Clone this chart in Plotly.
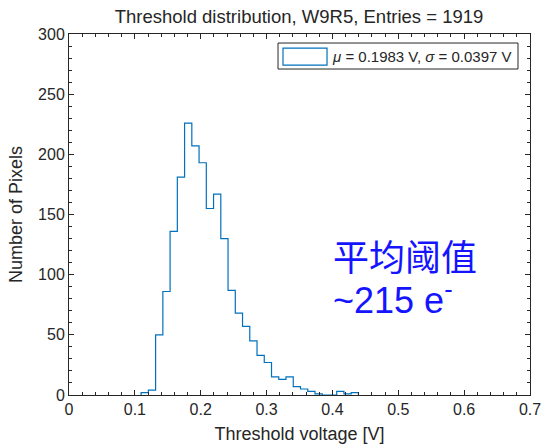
import numpy as np
import plotly.graph_objects as go

# Threshold histogram, W9R5 (bin width 0.011 V)
bin_start = 0.1095
bin_width = 0.011
counts = [2, 4, 50, 86, 136, 181, 226, 207, 193, 155,
          167, 130, 87, 68, 57, 45, 33, 27, 15, 13,
          15, 7, 5, 3, 1, 0, 0, 3, 1, 2]

x_ticks = [0, 0.1, 0.2, 0.3, 0.4, 0.5, 0.6, 0.7]
y_ticks = [0, 50, 100, 150, 200, 250, 300]

mean_v = 0.1983
sigma_v = 0.0397
entries = sum(counts)

edges = bin_start + bin_width * np.arange(len(counts) + 1)
# stairs outline: start and end on the baseline
xs = np.concatenate([[edges[0]], edges])
ys = np.concatenate([[0], counts, [0]])

AX = "#262626"
BLUE = "#0072BD"
FONT = "Liberation Sans, Arial, sans-serif"

fig = go.Figure()
fig.add_trace(go.Scatter(
    x=xs, y=ys, mode="lines", line_shape="hv",
    line=dict(color=BLUE, width=1.2),
    showlegend=False,
))

axis_common = dict(
    showline=True, linecolor=AX, linewidth=1, mirror="allticks",
    ticks="inside", ticklen=5, tickcolor=AX, tickwidth=1,
    showgrid=False, zeroline=False, automargin=False,
    ticklabeloverflow="allow",
    tickfont=dict(family=FONT, size=16, color=AX),
)

fig.update_xaxes(
    range=[0, 0.7], tickvals=x_ticks, ticktext=[f"{v:g}" for v in x_ticks],
    minor=dict(ticks="inside", dtick=0.02, ticklen=3, tickcolor=AX, showgrid=False),
    title=dict(text="Threshold voltage [V]", font=dict(family=FONT, size=18, color=AX), standoff=10),
    **axis_common,
)
fig.update_yaxes(
    range=[0, 300], tickvals=y_ticks,
    minor=dict(ticks="inside", dtick=10, ticklen=3, tickcolor=AX, showgrid=False),
    title=dict(text="Number of Pixels", font=dict(family=FONT, size=18, color=AX), standoff=10),
    **axis_common,
)

# legend box: outlined patch swatch plus the fit summary
fig.add_shape(type="rect", xref="paper", yref="paper",
              x0=0.4534, x1=0.974, y0=0.903, y1=0.975,
              line=dict(color=AX, width=1), fillcolor="white", layer="above")
fig.add_shape(type="rect", xref="paper", yref="paper",
              x0=0.4642, x1=0.5597, y0=0.914, y1=0.961,
              line=dict(color=BLUE, width=1.2), fillcolor="rgba(255,255,255,0)", layer="above")
fig.add_annotation(
    x=0.566, y=0.939, xref="paper", yref="paper", xanchor="left", yanchor="middle",
    text=f"<i>μ</i> = {mean_v:.4f} V, <i>σ</i> = {sigma_v:.4f} V", showarrow=False,
    font=dict(family=FONT, size=15, color=AX),
)

fig.add_annotation(
    x=0.398, y=116, xref="x", yref="y", xanchor="left", yanchor="middle",
    text="平均阈值", showarrow=False,
    font=dict(family="Noto Sans CJK SC", size=36, color="#1414FF"),
)
fig.add_annotation(
    x=0.398, y=81, xref="x", yref="y", xanchor="left", yanchor="middle",
    text="~215 e<sup>-</sup>", showarrow=False,
    font=dict(family=FONT, size=36, color="#1414FF"),
)

fig.update_layout(
    width=541, height=446,
    margin=dict(l=69, r=11, t=34, b=51),
    paper_bgcolor="white", plot_bgcolor="white",
    showlegend=False,
    title=dict(text=f"Threshold distribution, W9R5, Entries = {entries}",
               font=dict(family=FONT, size=18.5, color=AX),
               x=0.5527, xanchor="center", y=0.962, yanchor="middle"),
)

fig.write_html("out.html")
